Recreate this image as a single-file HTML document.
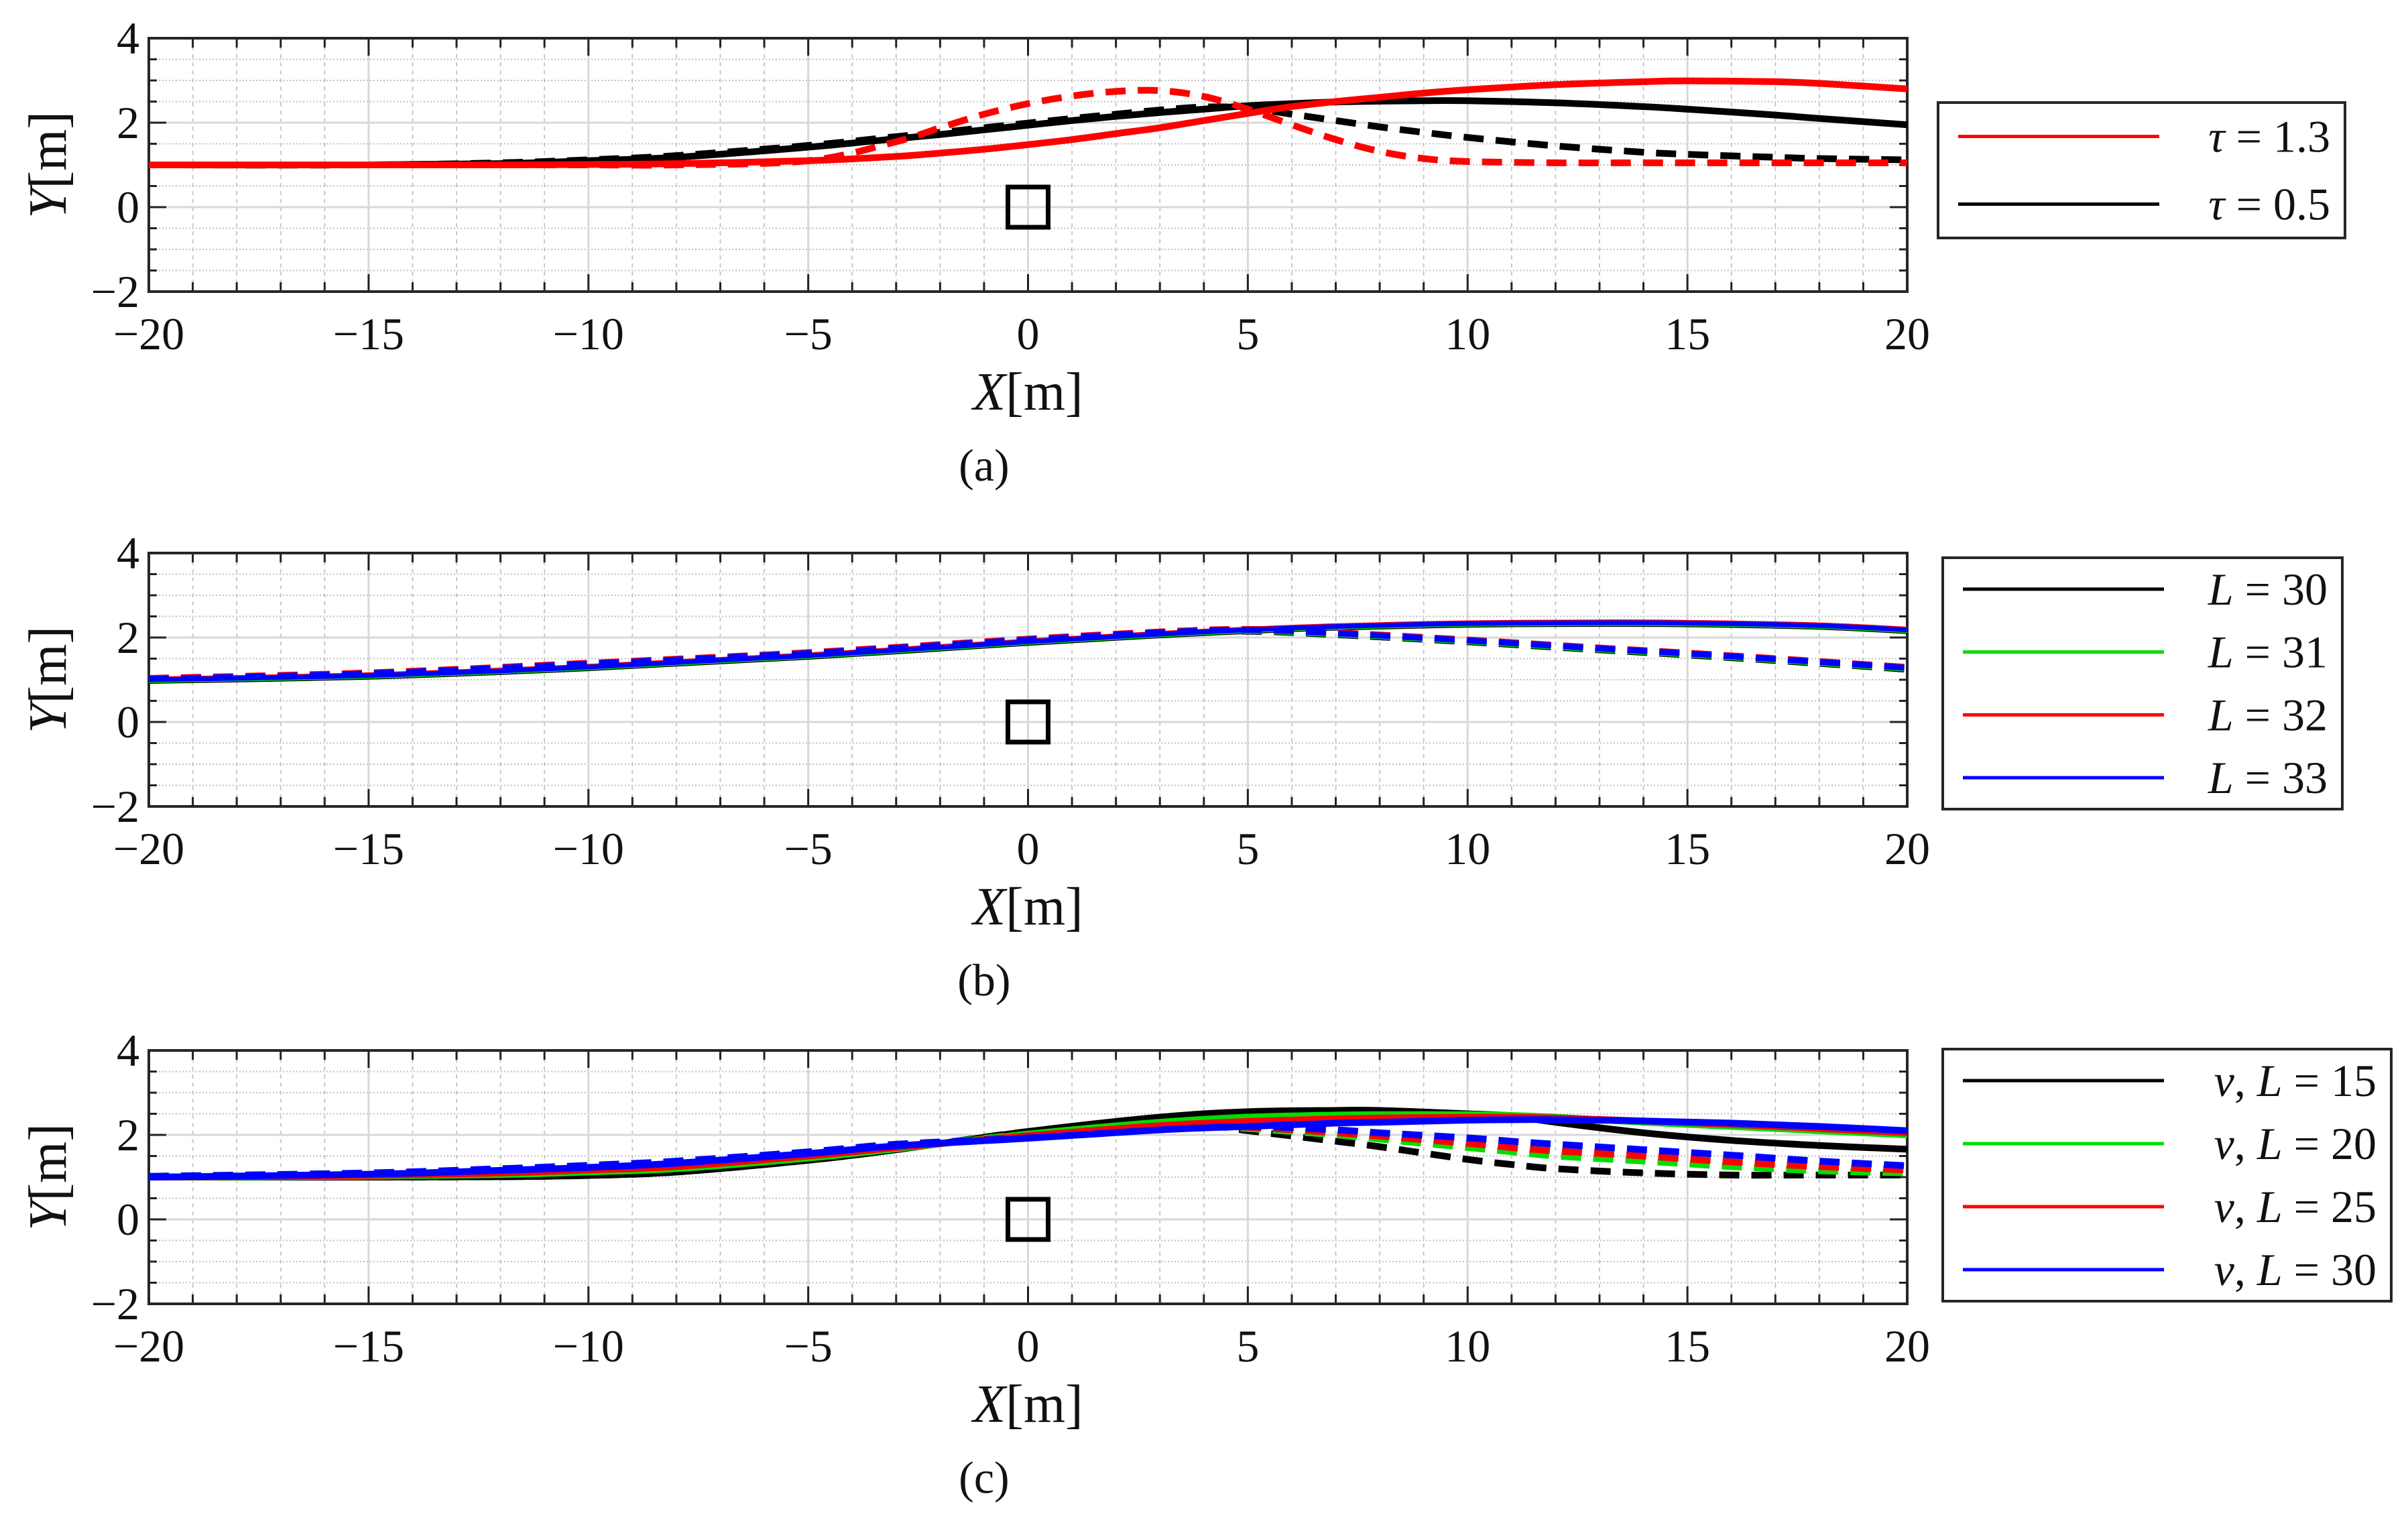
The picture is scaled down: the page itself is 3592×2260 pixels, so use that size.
<!DOCTYPE html>
<html><head><meta charset="utf-8">
<style>
html,body{margin:0;padding:0;background:#fff;}
svg{display:block;font-family:"Liberation Serif",serif;}
svg text{font-family:"Liberation Serif",serif;}
</style></head>
<body>
<svg id="fig" width="3592" height="2260" viewBox="0 0 3592 2260" xmlns="http://www.w3.org/2000/svg"></svg>
<script>
// ---- data ----
const xTicks = [-20,-15,-10,-5,0,5,10,15,20];
const yTicks = [-2,0,2,4];
// panel (a)
const aX = [-20,-15,-12,-10,-8,-5,-3,-2,-1,0,1,2,3,4,5,6,7,8,9,10,12,14,15,17,18,20];
const aRedSolid  = [1,1,1,1.01,1.03,1.1,1.2,1.28,1.37,1.48,1.6,1.74,1.88,2.05,2.22,2.38,2.5,2.6,2.7,2.78,2.9,2.97,2.99,2.97,2.93,2.8];
const aRedDash   = [1,1,1,1,1,1.1,1.55,1.88,2.2,2.45,2.63,2.74,2.76,2.62,2.32,1.95,1.6,1.32,1.15,1.08,1.05,1.05,1.05,1.05,1.05,1.05];
const aBlkSolid  = [1,1,1.03,1.1,1.18,1.42,1.62,1.72,1.83,1.94,2.05,2.15,2.24,2.32,2.4,2.45,2.49,2.51,2.52,2.52,2.47,2.38,2.32,2.18,2.1,1.95];
const aBlkDash   = [1,1,1.05,1.12,1.22,1.46,1.67,1.77,1.88,1.99,2.1,2.2,2.3,2.37,2.35,2.2,2.05,1.9,1.77,1.65,1.45,1.3,1.25,1.18,1.15,1.12];
// panel (b)
const bX = [-20,-15,-10,-5,0,3,5,7,10,13,15,18,20];
const bSolid = [1,1.1,1.3,1.57,1.9,2.08,2.18,2.26,2.33,2.35,2.34,2.28,2.18];
const bDash  = [1.02,1.15,1.38,1.63,1.95,2.12,2.18,2.1,1.93,1.74,1.62,1.42,1.28];
const bOffsets = [-0.04,-0.02,0.02,0];
// panel (c)
const cX = [-20,-15,-12,-10,-8,-5,-3,0,3,5,7,8,10,11,12,14,16,18,20];
const cBlkSolid = [1,1,1.01,1.04,1.12,1.4,1.65,2.08,2.42,2.55,2.58,2.58,2.5,2.45,2.3,2.05,1.87,1.75,1.66];
const cBlkDash  = [1,1,1.01,1.04,1.12,1.4,1.65,2.08,2.35,2.1,1.85,1.72,1.42,1.3,1.2,1.1,1.05,1.05,1.05];
const cGrnSolid = [1,1.02,1.06,1.12,1.2,1.45,1.67,2.02,2.3,2.42,2.47,2.48,2.48,2.46,2.42,2.3,2.2,2.1,2.0];
const cGrnDash  = [1,1.03,1.08,1.14,1.23,1.48,1.7,2.02,2.25,2.15,2.0,1.9,1.7,1.6,1.5,1.38,1.25,1.15,1.1];
const cRedSolid = [1,1.04,1.1,1.17,1.25,1.5,1.7,1.98,2.22,2.32,2.38,2.4,2.42,2.42,2.4,2.33,2.25,2.15,2.05];
const cRedDash  = [1,1.05,1.12,1.2,1.3,1.53,1.72,1.98,2.2,2.18,2.05,1.97,1.8,1.7,1.62,1.5,1.36,1.25,1.17];
const cBluSolid = [1,1.07,1.16,1.23,1.33,1.56,1.74,1.92,2.12,2.2,2.28,2.3,2.35,2.36,2.36,2.33,2.28,2.2,2.1];
const cBluDash  = [1.02,1.1,1.2,1.28,1.38,1.6,1.78,1.93,2.12,2.2,2.12,2.05,1.93,1.85,1.78,1.65,1.52,1.38,1.27];

const NS = "http://www.w3.org/2000/svg";
const svg = document.getElementById('fig');
const FONT = '"Liberation Serif", serif';
function mk(tag, attrs, parent){
  const e = document.createElementNS(NS, tag);
  for (const k in attrs) e.setAttribute(k, attrs[k]);
  if (tag === 'text') e.setAttribute('font-family', FONT);
  (parent||svg).appendChild(e);
  return e;
}
const X0 = 222, X1 = 2845;
function makeAxes(top, bottom){
  return {
    sx: v => X0 + (v + 20) / 40 * (X1 - X0),
    sy: v => bottom - (v + 2) / 6 * (bottom - top),
    top, bottom
  };
}
function smoothPath(xs, ys, ax){
  const p = xs.map((x,i)=>[ax.sx(x), ax.sy(ys[i])]);
  let d = `M${p[0][0]},${p[0][1]}`;
  for (let i=0;i<p.length-1;i++){
    const p0=p[i-1]||p[i], p1=p[i], p2=p[i+1], p3=p[i+2]||p2;
    const c1=[p1[0]+(p2[0]-p0[0])/6, p1[1]+(p2[1]-p0[1])/6];
    const c2=[p2[0]-(p3[0]-p1[0])/6, p2[1]-(p3[1]-p1[1])/6];
    d += ` C${c1[0]},${c1[1]} ${c2[0]},${c2[1]} ${p2[0]},${p2[1]}`;
  }
  return d;
}
function drawPanel(id, top, bottom, label){
  const ax = makeAxes(top, bottom);
  const g = mk('g', {});
  
  
  for (let v=-20; v<=20; v++){
    if (v%5===0) continue;
    const l = mk('line',{x1:ax.sx(v),x2:ax.sx(v),y1:top,y2:bottom,stroke:'#c8c8c8','stroke-width':2,'stroke-dasharray':'6 6'},g);
    
    
  }
  for (let v=-2; v<=4; v+=0.5){
    if (Math.abs(v%2)<1e-9) continue;
    const l = mk('line',{x1:X0,x2:X1,y1:ax.sy(v),y2:ax.sy(v),stroke:'#c0c0c0','stroke-width':2,'stroke-dasharray':'2 3'},g);
    
    
  }
  xTicks.forEach(v=>{
    const l = mk('line',{x1:ax.sx(v),x2:ax.sx(v),y1:top,y2:bottom,stroke:'#d8d8d8','stroke-width':3},g);
    
    
  });
  yTicks.forEach(v=>{
    const l = mk('line',{x1:X0,x2:X1,y1:ax.sy(v),y2:ax.sy(v),stroke:'#d8d8d8','stroke-width':3},g);
    
    
  });
  for (let v=-20; v<=20; v++){
    const len = v%5===0 ? 26 : 14;
    mk('line',{x1:ax.sx(v),x2:ax.sx(v),y1:top,y2:top+len,stroke:'#222','stroke-width':3},g);
    mk('line',{x1:ax.sx(v),x2:ax.sx(v),y1:bottom,y2:bottom-len,stroke:'#222','stroke-width':3},g);
  }
  for (let v=-2; v<=4; v+=0.5){
    const len = Math.abs(v%2)<1e-9 ? 26 : 12;
    mk('line',{x1:X0,x2:X0+len,y1:ax.sy(v),y2:ax.sy(v),stroke:'#222','stroke-width':3},g);
    mk('line',{x1:X1,x2:X1-len,y1:ax.sy(v),y2:ax.sy(v),stroke:'#222','stroke-width':3},g);
  }
  xTicks.forEach(v=>{
    const t = mk('text',{x:ax.sx(v),y:bottom+86,'font-size':68,'text-anchor':'middle',fill:'#111'},g);
    t.textContent = v<0 ? '\u2212'+(-v) : String(v);
    
    
  });
  yTicks.forEach(v=>{
    const t = mk('text',{x:X0-14,y:ax.sy(v)+23,'font-size':68,'text-anchor':'end',fill:'#111'},g);
    t.textContent = v<0 ? '\u2212'+(-v) : String(v);
    
    
  });
  const xt = mk('text',{x:ax.sx(0),y:bottom+176,'font-size':80,'text-anchor':'middle',fill:'#111'},g);
  xt.innerHTML = '<tspan font-style="italic">X</tspan>[m]';
  
  
  const yt = mk('text',{x:0,y:0,'font-size':80,'text-anchor':'middle',fill:'#111',transform:`translate(98,${(top+bottom)/2}) rotate(-90)`},g);
  yt.innerHTML = '<tspan font-style="italic">Y</tspan>[m]';
  
  
  const cap = mk('text',{x:ax.sx(-1),y:bottom+282,'font-size':68,'text-anchor':'middle',fill:'#111'},g);
  cap.textContent = label;
  
  
  const ob = mk('rect',{x:ax.sx(0)-30,y:ax.sy(0)-30,width:60,height:60,fill:'none',stroke:'#000','stroke-width':7},g);
  
  
  const fr = mk('rect',{x:X0,y:top,width:X1-X0,height:bottom-top,fill:'none',stroke:'#262626','stroke-width':4},g);
  
  
  return {ax, g};
}
function line(panel, xs, ys, color, dashed, name, w){
  const p = mk('path',{d:smoothPath(xs,ys,panel.ax),fill:'none',stroke:color,'stroke-width':w||10,'stroke-dasharray':dashed?'30 18':'none','stroke-linejoin':'round'},panel.g);
  
  
}
function legend(x,y,w,h,entries,name){
  const g = mk('g',{});
  
  
  mk('rect',{x,y,width:w,height:h,fill:'#fff',stroke:'#262626','stroke-width':4},g);
  const step = h/entries.length;
  entries.forEach((e,i)=>{
    const cy = y + step*(i+0.5);
    mk('line',{x1:x+30,x2:x+330,y1:cy,y2:cy,stroke:e[0],'stroke-width':5},g);
    const t = mk('text',{x:x+w-22,y:cy+23,'font-size':68,'text-anchor':'end',fill:'#111'},g);
    t.innerHTML = e[1];
    
    
  });
}
const pa = drawPanel('a', 57, 435, '(a)');
line(pa, aX, aBlkDash, '#000', true, 'black-dashed-a');
line(pa, aX, aBlkSolid, '#000', false, 'black-solid-a');
line(pa, aX, aRedDash, '#ff0000', true, 'red-dashed-a');
line(pa, aX, aRedSolid, '#ff0000', false, 'red-solid-a');
legend(2891,153,607,202,[['#ff0000','<tspan font-style="italic">τ</tspan> = 1.3'],['#000','<tspan font-style="italic">τ</tspan> = 0.5']],'legend-a');
const pb = drawPanel('b', 825, 1203, '(b)');
const bColors = ['#000','#00dd00','#ff0000','#0000ff'];
bColors.forEach((c,i)=>{
  line(pb, bX, bDash.map(v=>v+bOffsets[i]), c, true, 'dashed-b-'+i, 9);
  line(pb, bX, bSolid.map(v=>v+bOffsets[i]), c, false, 'solid-b-'+i, 7);
});
legend(2898,832,596,375,[['#000','<tspan font-style="italic">L</tspan> = 30'],['#00dd00','<tspan font-style="italic">L</tspan> = 31'],['#ff0000','<tspan font-style="italic">L</tspan> = 32'],['#0000ff','<tspan font-style="italic">L</tspan> = 33']],'legend-b');
const pc = drawPanel('c', 1567, 1945, '(c)');
line(pc, cX, cBlkDash, '#000', true, 'black-dashed-c');
line(pc, cX, cBlkSolid, '#000', false, 'black-solid-c');
line(pc, cX, cGrnDash, '#00dd00', true, 'green-dashed-c');
line(pc, cX, cGrnSolid, '#00dd00', false, 'green-solid-c');
line(pc, cX, cRedDash, '#ff0000', true, 'red-dashed-c');
line(pc, cX, cRedSolid, '#ff0000', false, 'red-solid-c');
line(pc, cX, cBluDash, '#0000ff', true, 'blue-dashed-c');
line(pc, cX, cBluSolid, '#0000ff', false, 'blue-solid-c');
legend(2898,1565,669,376,[['#000','<tspan font-style="italic">v</tspan>, <tspan font-style="italic">L</tspan> = 15'],['#00dd00','<tspan font-style="italic">v</tspan>, <tspan font-style="italic">L</tspan> = 20'],['#ff0000','<tspan font-style="italic">v</tspan>, <tspan font-style="italic">L</tspan> = 25'],['#0000ff','<tspan font-style="italic">v</tspan>, <tspan font-style="italic">L</tspan> = 30']],'legend-c');
</script>
</body></html>
